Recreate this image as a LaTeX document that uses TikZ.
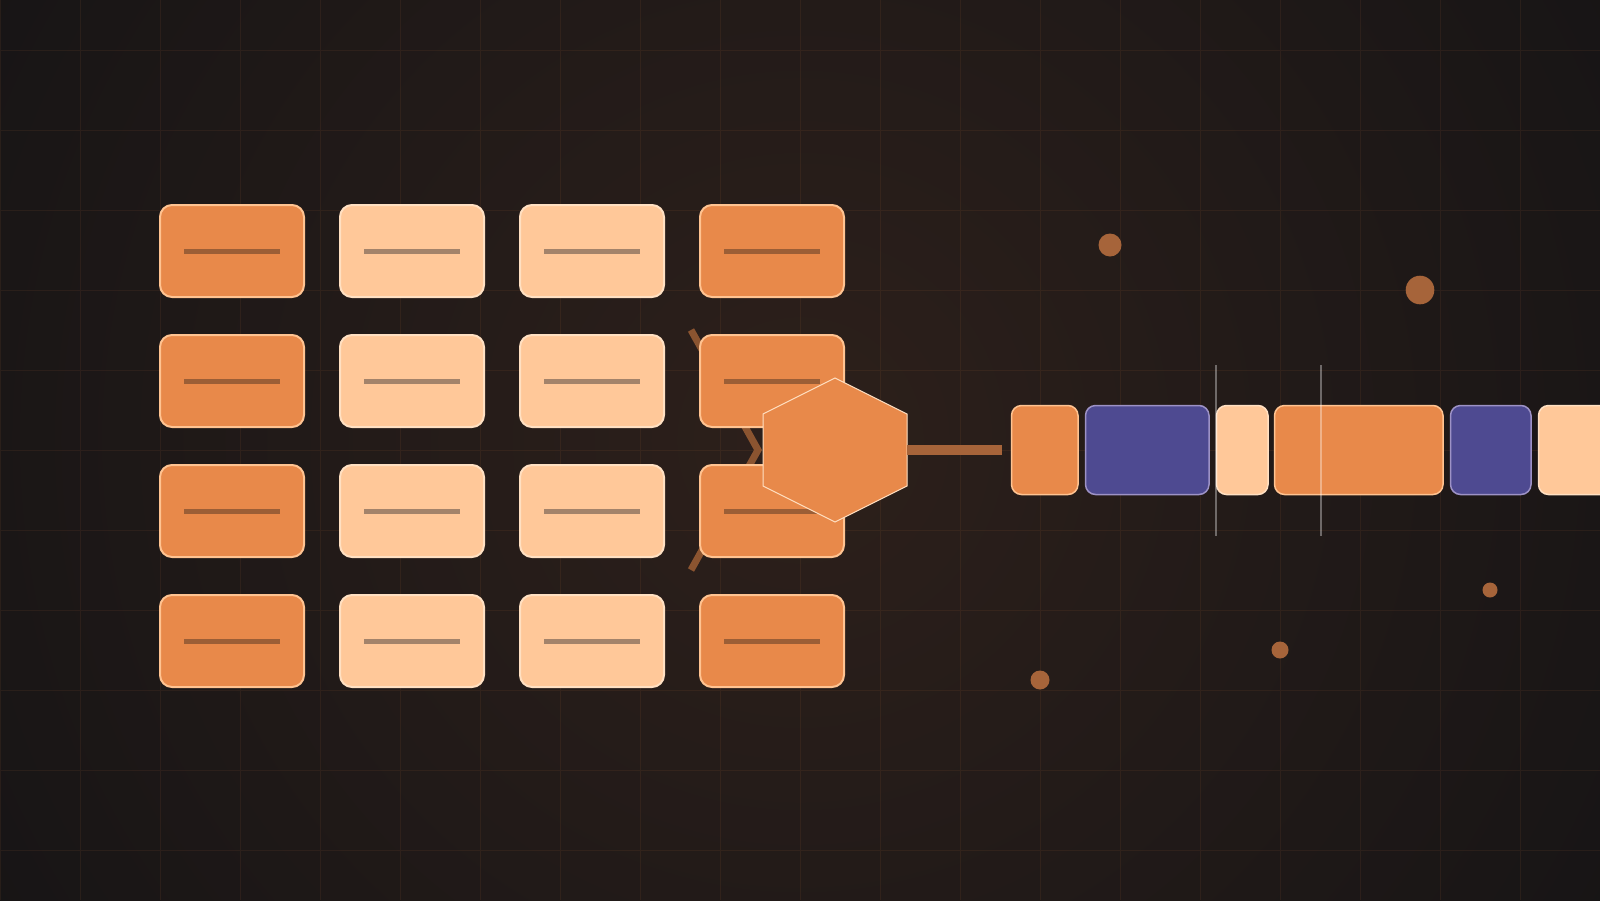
\documentclass[tikz,border=0pt]{standalone}
\usetikzlibrary{calc}

\definecolor{bginner}{HTML}{2D201B}
\definecolor{bgouter}{HTML}{121214}
\definecolor{ember}{HTML}{E8894A}
\definecolor{emberrim}{HTML}{FFC391}
\definecolor{peach}{HTML}{FFC899}
\definecolor{peachrim}{HTML}{FFE0C2}
\definecolor{indigo}{HTML}{4E4A91}
\definecolor{indigorim}{HTML}{9D92C6}
\definecolor{rust}{HTML}{9B5E36}
\definecolor{clay}{HTML}{A3836A}
\definecolor{copper}{HTML}{A6643A}
\definecolor{bark}{HTML}{8B5430}

\tikzset{
	tile/.style={draw, line width=2pt, rounded corners=12pt, minimum width=144pt, minimum height=92pt, inner sep=0pt},
	hot/.style={tile, fill=ember, draw=emberrim},
	cool/.style={tile, fill=peach, draw=peachrim},
	hotdash/.style={rust, line width=5pt},
	cooldash/.style={clay, line width=5pt},
	block/.style={draw, line width=1.5pt, rounded corners=10pt, minimum height=89pt, inner sep=0pt, anchor=west},
	hotblock/.style={block, fill=ember, draw=emberrim},
	coolblock/.style={block, fill=peach, draw=peachrim},
	inkblock/.style={block, fill=indigo, draw=indigorim},
	gridline/.style={ember, opacity=0.08, line width=1pt},
	marker/.style={white, opacity=0.35, line width=2pt},
	spark/.style={copper}
}

\begin{document}
\begin{tikzpicture}[x=1pt, y=-1pt]

	% frame of the picture, in pixels
	\useasboundingbox (0,0) rectangle (1600,900);
	\clip (0,0) rectangle (1600,900);

	% macro for one tile of the grid: name, x, y, style
	\newcommand{\tileat}[4]{
		\node[#4] (#1) at (#2,#3) {};
		\draw[#4dash] ([xshift=-48pt]#1.center) -- ([xshift=48pt]#1.center);
	}

	% dark background with warm glow in the middle
	\fill[bgouter] (0,0) rectangle (1600,900);
	\shade[inner color=bginner, outer color=bgouter] (800,440) circle (1150);

	% faint grid (upward y inside, so the steps stay positive)
	\begin{scope}[y=1pt, shift={(0,-850)}]
		\draw[gridline, step=80] (0,-50) grid (1600,850);
	\end{scope}

	% bent link behind the last column
	\coordinate (kinkA) at (691,330);
	\coordinate (kinkB) at (758,450);
	\coordinate (kinkC) at (691,570);
	\draw[bark, line width=7pt] (kinkA) -- (kinkB) -- (kinkC);

	% grid of tiles, row by row
	\tileat{t11}{232}{251}{hot}
	\tileat{t12}{412}{251}{cool}
	\tileat{t13}{592}{251}{cool}
	\tileat{t14}{772}{251}{hot}

	\tileat{t21}{232}{381}{hot}
	\tileat{t22}{412}{381}{cool}
	\tileat{t23}{592}{381}{cool}
	\tileat{t24}{772}{381}{hot}

	\tileat{t31}{232}{511}{hot}
	\tileat{t32}{412}{511}{cool}
	\tileat{t33}{592}{511}{cool}
	\tileat{t34}{772}{511}{hot}

	\tileat{t41}{232}{641}{hot}
	\tileat{t42}{412}{641}{cool}
	\tileat{t43}{592}{641}{cool}
	\tileat{t44}{772}{641}{hot}

	% hexagon over the last column
	\coordinate (hexc) at (835,450);
	\coordinate (hexE) at ($(hexc)+(72,0)$);
	\filldraw[ember, draw=peachrim, line width=1pt] ($(hexc)+(0,-72)$) -- ($(hexc)+(72,-36)$) -- ($(hexc)+(72,36)$) -- ($(hexc)+(0,72)$) -- ($(hexc)+(-72,36)$) -- ($(hexc)+(-72,-36)$) -- cycle;

	% strip of blocks on the right
	\node[hotblock, minimum width=66.5pt] (b1) at (1010.75,450) {};
	\node[inkblock, minimum width=123.5pt] (b2) at (1084.75,450) {};
	\node[coolblock, minimum width=51.5pt] (b3) at (1215.75,450) {};
	\node[hotblock, minimum width=168.5pt] (b4) at (1273.75,450) {};
	\node[inkblock, minimum width=80.5pt] (b5) at (1449.75,450) {};
	\node[coolblock, minimum width=160pt] (b6) at (1537.75,450) {};

	% link from hexagon to the strip
	\coordinate (stubend) at ([xshift=-9pt]b1.west);
	\draw[copper, line width=9.5pt] (hexE) -- (stubend);

	% two cut marks across the strip
	\draw[marker] (1215.5,365) -- (1215.5,536);
	\draw[marker] (1320.5,365) -- (1320.5,536);

	% loose dots
	\fill[spark] (1110,245) circle (11.5);
	\fill[spark] (1420,290) circle (14.3);
	\fill[spark] (1490,590) circle (7.5);
	\fill[spark] (1280,650) circle (8.5);
	\fill[spark] (1040,680) circle (9.5);

\end{tikzpicture}
\end{document}
